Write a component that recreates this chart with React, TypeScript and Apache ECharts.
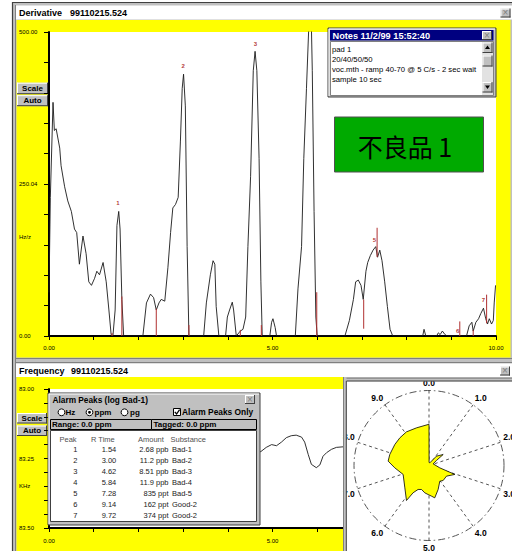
import React, { useEffect, useRef } from 'react';
import * as echarts from 'echarts';

// ---------- Derivative chart data ----------
const derivTimes = [
  0.00, 0.03, 0.09, 0.12, 0.16, 0.24, 0.27, 0.35, 0.42, 0.50, 0.57, 0.62, 0.68, 0.76, 0.83, 0.89, 0.95, 1.02, 1.07, 1.13,
  1.21, 1.28, 1.34, 1.39, 1.43, 1.48, 1.52, 1.56, 1.59, 1.63, 1.67,
  2.10, 2.18, 2.27, 2.34, 2.40, 2.46, 2.51, 2.59, 2.66, 2.72, 2.77, 2.83, 2.89, 2.94, 2.98, 3.01, 3.05, 3.09, 3.13,
  3.46, 3.52, 3.61, 3.67, 3.71, 3.74, 3.80, 3.95, 3.99, 4.04, 4.10, 4.13, 4.19, 4.28, 4.34, 4.40, 4.45, 4.51, 4.57,
  4.61, 4.65, 4.70, 4.74, 4.77, 4.94, 4.98, 5.01, 5.06, 5.09, 5.51, 5.57, 5.65, 5.70, 5.76, 5.82, 5.845, 5.865, 5.89,
  5.93, 5.97, 6.00, 6.62, 6.72, 6.81, 6.86, 6.92, 6.98, 7.03, 7.09, 7.13, 7.19, 7.25, 7.31, 7.35, 7.40, 7.45, 7.51,
  7.57, 7.63, 7.69, 8.36, 8.39, 8.43, 8.67, 8.71, 8.75, 8.80, 8.86, 8.90, 9.34, 9.40, 9.46, 9.49, 9.55, 9.61, 9.66,
  9.72, 9.77, 9.81, 9.85, 9.90, 9.94, 9.96, 9.99,
];
const derivValues = [
  71.8, 228.0, 384.3, 338.0, 340.9, 309.0, 280.1, 245.4, 222.2, 204.9, 175.9, 170.1, 118.1, 164.4, 135.4, 89.1, 83.3, 94.9, 106.5, 100.7,
  120.9, 89.1, 42.8, 2.3, 0, 42.8, 181.7, 204.9, 175.9, 60.2, 0,
  0, 54.4, 68.9, 63.1, 42.8, 54.4, 60.2, 57.3, 112.3, 170.1, 210.6, 216.4, 228.0, 320.6, 407.4, 430.6, 378.5, 147.0, 0,
  0, 54.4, 100.7, 123.8, 118.1, 48.6, 0, 0, 31.2, 42.8, 55.6, 42.8, 0, 8.1, 11.0, 31.2, 147.0, 262.7, 436.3,
  468.2, 436.3, 291.7, 89.1, 0, 0, 22.6, 28.4, 13.9, 0, 0, 77.5, 147.0, 291.7, 407.4, 525, 560, 530, 436.3,
  204.9, 31.2, 0, 0, 25.5, 60.2, 89.1, 92.0, 83.3, 60.2, 106.5, 120.9, 132.5, 141.2, 147.0, 129.6, 141.2, 123.8, 89.1,
  48.6, 11.0, 0, 0, 11.0, 0, 0, 5.2, 2.3, 8.1, 2.3, 0, 0, 16.8, 22.6, 8.1, 22.6, 28.4, 37.0,
  45.7, 28.4, 19.7, 28.4, 19.7, 25.5, 54.4, 83.3,
];
// tagged peak marks: [time, from, to]
const tagMarks = [
  [1.41, 0, 5], [1.63, 0, 65], [2.40, 0, 45], [3.13, 0, 18], [4.28, 0, 10], [4.75, 0, 18], [5.99, 0, 72],
  [7.04, 12, 60], [7.34, 130, 178], [9.19, 0, 24], [9.49, 0, 10], [9.79, 21, 68],
];
const derivXLabels = ['0.00', '5.00', '10.00'];
const derivYLabels = ['0.00', '250.04', '500.00'];

// ---------- Alarm peak table ----------
const peakNumbers = [1, 2, 3, 4, 5, 6, 7];
const peakRTimes = ['1.54', '3.00', '4.62', '5.84', '7.28', '9.14', '9.72'];
const peakAmounts = ['2.68 ppb', '11.2 ppb', '8.51 ppb', '11.9 ppb', '835 ppt', '162 ppt', '374 ppt'];
const peakSubstances = ['Bad-1', 'Bad-2', 'Bad-3', 'Bad-4', 'Bad-5', 'Good-2', 'Good-2'];
// label heights on the derivative plot (peak 4 is off scale, not labelled)
const peakLabelHeights = [219, 444, 481, null, 158, 8.7, 59];

// ---------- Frequency chart data ----------
const freqTimes = [4.60, 4.74, 4.86, 4.98, 5.09, 5.20, 5.31, 5.42, 5.53, 5.65, 5.72, 5.80, 5.87, 5.98, 6.06, 6.13, 6.21, 6.32, 6.43, 6.58, 6.70];
const freqValues = [83.23, 83.225, 83.210, 83.200, 83.204, 83.191, 83.175, 83.168, 83.166, 83.173, 83.191, 83.236, 83.271, 83.283, 83.273, 83.242, 83.229, 83.217, 83.210, 83.208, 83.208];
const freqXLabels = ['0.00', '5.00', '10.00'];
const freqYLabels = ['83.00', '83.25', '83.50'];

// ---------- Polar pattern ----------
const polarAngles = [0, 0.05, 0.46, 1.07, 1.45, 1.56, 1.89, 2.84, 3.03, 3.37, 3.80, 4.04, 4.42, 4.72, 4.87, 5.05, 5.24, 5.48, 5.68, 5.84, 5.91, 6.31, 6.97, 7.39, 7.67, 7.94, 8.38, 8.71, 9.06, 9.49, 9.97, 10];
const polarRadii = [0.55, 0.04, 0.037, 0.159, 0.239, 0.12, 0.059, 0.147, 0.364, 0.273, 0.275, 0.254, 0.342, 0.438, 0.41, 0.387, 0.369, 0.335, 0.351, 0.421, 0.555, 0.439, 0.365, 0.457, 0.548, 0.543, 0.535, 0.536, 0.54, 0.529, 0.547, 0.55];

// ---------- Notes ----------
const noteTitle = 'Notes 11/2/99 15:52:40';
const noteLines = ['pad 1', '20/40/50/50', 'voc.mth - ramp 40-70 @ 5 C/s - 2 sec wait', 'sample 10 sec'];

const UI = 'Liberation Sans';
const GRAY = '#c0c0c0';

function R(x: number, y: number, w: number, h: number, fill: string, stroke: string | null = null, z = 0, lw = 1): any {
  return { type: 'rect', shape: { x, y, width: w, height: h }, style: { fill, stroke, lineWidth: lw }, z, silent: true };
}
function L(x1: number, y1: number, x2: number, y2: number, stroke: string, z = 0, lw = 1): any {
  return { type: 'line', shape: { x1, y1, x2, y2 }, style: { stroke, lineWidth: lw }, z, silent: true };
}
function T(x: number, y: number, text: string, o: any = {}): any {
  const align = o.align || 'left';
  return {
    type: 'text', x, y, z: o.z ?? 0, silent: true,
    style: {
      text, fill: o.color || '#000', fontSize: o.size || 8, fontWeight: o.bold ? 'bold' : 'normal',
      fontFamily: o.family || UI, align, textAlign: align, verticalAlign: 'middle', textVerticalAlign: 'middle',
    },
  };
}
function button(x: number, y: number, w: number, h: number, z = 0): any[] {
  return [
    R(x, y, w, h, GRAY, null, z),
    L(x, y + 0.5, x + w, y + 0.5, '#fff', z),
    L(x + 0.5, y, x + 0.5, y + h, '#fff', z),
    L(x, y + h - 0.5, x + w, y + h - 0.5, '#404040', z),
    L(x + w - 0.5, y, x + w - 0.5, y + h, '#404040', z),
  ];
}
function closeBox(x: number, y: number, z = 0): any[] {
  return [...button(x, y, 10, 9, z), T(x + 5, y + 4.3, '×', { size: 10, color: '#808080', align: 'center', z })];
}

function buildGraphic(): any[] {
  const g: any[] = [];
  // outer frame
  g.push(R(12.5, 2.5, 502, 551, GRAY, '#404040', 0, 1.2));
  g.push(L(15.5, 5, 15.5, 551, '#808080'));
  // top panel
  g.push(R(16, 5.5, 496, 14, '#fff'));
  g.push(T(19, 12.8, 'Derivative', { size: 9, bold: true }));
  g.push(T(70, 12.8, '99110215.524', { size: 9, bold: true }));
  g.push(...closeBox(500.5, 8.5));
  g.push(R(16.5, 20, 494, 337.5, '#ffff00'));
  g.push(R(49, 32, 447, 304, '#fff'));
  g.push(T(19, 237, 'Hz/z', { size: 6 }));
  g.push(...button(17, 82.7, 31, 11.5), T(32.5, 88.5, 'Scale', { bold: true, align: 'center' }));
  g.push(...button(17, 95.2, 31, 11), T(32.5, 100.7, 'Auto', { bold: true, align: 'center' }));
  // separator
  g.push(L(16, 358.5, 512, 358.5, '#808080'));
  g.push(L(16, 362.5, 512, 362.5, '#808080'));
  // bottom panel
  g.push(R(16, 363.5, 496, 13.5, '#fff'));
  g.push(T(19, 371, 'Frequency', { size: 9, bold: true }));
  g.push(T(71, 371, '99110215.524', { size: 9, bold: true }));
  g.push(...closeBox(500, 366.5));
  g.push(R(16.5, 377, 327, 174, '#ffff00'));
  g.push(R(49, 389, 447, 139, '#fff'));
  g.push(T(19, 486, 'KHz', { size: 6 }));
  g.push(...button(17, 413, 30, 10.5), T(32, 418.3, 'Scale', { bold: true, align: 'center' }));
  g.push(...button(17, 425.5, 30, 10.5), T(32, 430.8, 'Auto', { bold: true, align: 'center' }));

  // notes window
  const Z = 20;
  g.push(R(328, 28, 168, 69, GRAY, '#404040', Z));
  g.push(L(329, 29, 495, 29, '#fff', Z), L(329, 29, 329, 96, '#fff', Z));
  g.push(R(330, 30, 163.5, 10.5, '#000080', null, Z));
  g.push(T(332.5, 35.5, noteTitle, { size: 9.2, bold: true, color: '#fff', z: Z }));
  g.push(...closeBox(482, 31, Z));
  g.push(R(330.5, 41.5, 163, 54, '#fff', '#808080', Z));
  noteLines.forEach((s, i) => g.push(T(332, 49 + i * 10, s, { size: 7.7, z: Z })));
  g.push(R(482, 42, 11, 53, '#e2e2e2', null, Z));
  g.push(...button(482.5, 42.5, 10, 10.5, Z));
  g.push({ type: 'polygon', shape: { points: [[487.5, 45.5], [485, 49], [490, 49]] }, style: { fill: '#000' }, z: Z });
  g.push(...button(482.5, 55.5, 10, 11, Z));
  g.push(...button(482.5, 82, 10, 10.5, Z));
  g.push({ type: 'polygon', shape: { points: [[485, 85.5], [490, 85.5], [487.5, 89]] }, style: { fill: '#000' }, z: Z });

  // result box
  g.push(R(334.5, 117, 149, 55, '#00aa00', '#505050', Z));
  g.push(T(405, 145.5, '不良品 1', { size: 25, family: 'Noto Sans CJK SC', align: 'center', z: Z }));

  // alarm peaks window
  g.push(R(48, 393, 212, 132, GRAY, '#404040', Z));
  g.push(L(49, 394, 259, 394, '#fff', Z), L(49, 394, 49, 524, '#fff', Z));
  g.push(T(52.5, 399.5, 'Alarm Peaks (log Bad-1)', { size: 8.3, bold: true, z: Z }));
  g.push(...closeBox(245, 395, Z));
  const rad = (cx: number, on: boolean) => {
    g.push({ type: 'circle', shape: { cx, cy: 412.3, r: 3.4 }, style: { fill: '#fff', stroke: '#000', lineWidth: 1 }, z: Z });
    if (on) g.push({ type: 'circle', shape: { cx, cy: 412.3, r: 1.4 }, style: { fill: '#000' }, z: Z });
  };
  rad(61.5, false); rad(89.5, true); rad(124.5, false);
  g.push(T(65.5, 412.3, 'Hz', { bold: true, z: Z }));
  g.push(T(94.5, 412.3, 'ppm', { bold: true, z: Z }));
  g.push(T(130, 412.3, 'pg', { bold: true, z: Z }));
  g.push(R(173.5, 408.5, 7, 7, '#fff', '#000', Z));
  g.push({ type: 'polyline', shape: { points: [[174.8, 411.8], [176.6, 414], [179.6, 409.6]] }, style: { stroke: '#000', lineWidth: 1.3, fill: null }, z: Z });
  g.push(T(182, 412.3, 'Alarm Peaks Only', { size: 8.4, bold: true, z: Z }));
  g.push(R(50.5, 419.5, 101, 10, GRAY, '#000', Z));
  g.push(R(151.5, 419.5, 105, 10, GRAY, '#000', Z));
  g.push(T(52, 424.5, 'Range: 0.0 ppm', { bold: true, z: Z }));
  g.push(T(153.5, 424.5, 'Tagged: 0.0 ppm', { bold: true, z: Z }));
  g.push(R(50.5, 430.5, 206, 91, '#fff', '#404040', Z));
  const hc = '#505050';
  g.push(T(59.5, 439, 'Peak', { size: 7.5, color: hc, z: Z }));
  g.push(T(91, 439, 'R Time', { size: 7.5, color: hc, z: Z }));
  g.push(T(138, 439, 'Amount', { size: 7.5, color: hc, z: Z }));
  g.push(T(170.5, 439, 'Substance', { size: 7.5, color: hc, z: Z }));
  peakNumbers.forEach((n, i) => {
    const y = 449.3 + i * 11.07;
    const c = '#222';
    g.push(T(77.5, y, String(n), { size: 7.5, color: c, align: 'right', z: Z }));
    g.push(T(116.3, y, peakRTimes[i], { size: 7.5, color: c, align: 'right', z: Z }));
    g.push(T(168.5, y, peakAmounts[i], { size: 7.5, color: c, align: 'right', z: Z }));
    g.push(T(172, y, peakSubstances[i], { size: 7.5, color: c, z: Z }));
  });

  // polar panel background and frame
  g.push(R(343, 377, 169, 174, '#fff', null, Z));
  g.push(R(343, 377, 169, 4.2, GRAY, null, 40));
  g.push(L(343, 378.2, 512, 378.2, '#808080', 40));
  g.push(L(346, 381, 512, 381, '#404040', 40));
  g.push(R(343, 377, 3.5, 174, GRAY, null, 40));
  g.push(L(343.5, 377, 343.5, 551, '#808080', 40));
  g.push(L(346.3, 381, 346.3, 551, '#404040', 40));
  return g;
}

function buildOption(): any {
  const deriv = derivTimes.map((t, i) => [t, derivValues[i]]);
  const freq = freqTimes.map((t, i) => [t, freqValues[i]]);
  const polarData = polarAngles.map((a, i) => [polarRadii[i], a]);
  const labels = peakNumbers
    .map((n, i) => ({ name: String(n), value: [Number(peakRTimes[i]), peakLabelHeights[i]] }))
    .filter((d) => d.value[1] !== null);
  const axisFont = { fontSize: 6, color: '#000', fontFamily: UI };
  const xFmt = (labelsArr: string[]) => (v: number) => {
    const i = v / 5;
    return Math.abs(i - Math.round(i)) < 1e-6 ? labelsArr[Math.round(i)] : '';
  };
  return {
    animation: false,
    backgroundColor: '#fff',
    graphic: { elements: buildGraphic() },
    grid: [
      { left: 49, top: 32, width: 447, height: 304, show: false },
      { left: 49, top: 389, width: 447, height: 139, show: false },
    ],
    xAxis: [
      {
        gridIndex: 0, type: 'value', min: 0, max: 10, interval: 1, z: 5,
        axisLine: { show: true, onZero: false, lineStyle: { color: '#000', width: 2 } },
        axisTick: { show: true, length: 4, lineStyle: { color: '#000' } },
        splitLine: { show: false },
        axisLabel: { ...axisFont, margin: 9, formatter: xFmt(derivXLabels) },
      },
      {
        gridIndex: 1, type: 'value', min: 0, max: 10, interval: 1, z: 5,
        axisLine: { show: true, onZero: false, lineStyle: { color: '#000', width: 2 } },
        axisTick: { show: true, length: 4, lineStyle: { color: '#000' } },
        splitLine: { show: false },
        axisLabel: { ...axisFont, margin: 10, formatter: xFmt(freqXLabels) },
      },
    ],
    yAxis: [
      {
        gridIndex: 0, type: 'value', min: 0, max: 500, interval: 50, z: 5,
        axisLine: { show: true, onZero: false, lineStyle: { color: '#000', width: 2 } },
        axisTick: { show: true, length: 5, lineStyle: { color: '#000' } },
        splitLine: { show: false },
        axisLabel: {
          ...axisFont, align: 'left', margin: 30,
          formatter: (v: number) => {
            const i = v / 250;
            return Math.abs(i - Math.round(i)) < 1e-6 ? derivYLabels[Math.round(i)] : '';
          },
        },
      },
      {
        gridIndex: 1, type: 'value', min: 83, max: 83.5, interval: 0.05, inverse: true, z: 5,
        axisLine: { show: true, onZero: false, lineStyle: { color: '#000', width: 2 } },
        axisTick: { show: true, length: 5, lineStyle: { color: '#000' } },
        splitLine: { show: false },
        axisLabel: {
          ...axisFont, align: 'left', margin: 30,
          formatter: (v: number) => {
            const i = (v - 83) / 0.25;
            return Math.abs(i - Math.round(i)) < 1e-6 ? freqYLabels[Math.round(i)] : '';
          },
        },
      },
    ],
    polar: { center: [429, 465.5], radius: 75 },
    angleAxis: {
      type: 'value', min: 0, max: 10, interval: 1, startAngle: 90, clockwise: true, z: 30,
      axisLine: { show: true, lineStyle: { color: '#555', width: 1, type: [7, 3, 1.5, 3] } },
      axisTick: { show: false },
      splitLine: { show: true, lineStyle: { color: '#555', width: 1, type: [3, 3] } },
      axisLabel: {
        show: true, margin: 3, fontSize: 8.5, fontWeight: 'bold', color: '#000', fontFamily: UI,
        formatter: (v: number) => (v >= 10 ? '' : v.toFixed(1)),
      },
    },
    radiusAxis: { type: 'value', min: 0, max: 1, show: false, z: 30 },
    series: [
      {
        type: 'line', xAxisIndex: 0, yAxisIndex: 0, data: deriv, showSymbol: false, z: 6, clip: true,
        lineStyle: { color: '#1a1a1a', width: 0.9 },
      },
      {
        type: 'custom', xAxisIndex: 0, yAxisIndex: 0, data: tagMarks, z: 7, encode: { x: 0, y: [1, 2] },
        renderItem: (_p: any, api: any) => {
          const a = api.coord([api.value(0), api.value(1)]);
          const b = api.coord([api.value(0), api.value(2)]);
          return { type: 'line', shape: { x1: a[0], y1: a[1], x2: b[0], y2: b[1] }, style: { stroke: '#b03030', lineWidth: 1 } };
        },
      },
      {
        type: 'scatter', xAxisIndex: 0, yAxisIndex: 0, data: labels, z: 8, symbolSize: 1,
        itemStyle: { color: 'rgba(0,0,0,0)' },
        label: { show: true, position: 'inside', formatter: '{b}', color: '#a00000', fontSize: 6, fontWeight: 'bold', fontFamily: UI },
      },
      {
        type: 'line', xAxisIndex: 1, yAxisIndex: 1, data: freq, showSymbol: false, z: 6,
        lineStyle: { color: '#1a1a1a', width: 0.9 },
      },
      {
        type: 'line', coordinateSystem: 'polar', polarIndex: 0, data: polarData, showSymbol: false, z: 31,
        lineStyle: { color: '#000', width: 0.8 },
        areaStyle: { color: '#ffff00', opacity: 1 },
      },
    ],
  };
}

export default function App() {
  const ref = useRef<HTMLDivElement>(null);
  useEffect(() => {
    document.body.style.margin = '0';
    const chart = echarts.init(ref.current!, undefined, { renderer: 'svg' });
    chart.setOption(buildOption());
    return () => chart.dispose();
  }, []);
  return <div ref={ref} style={{ width: 512, height: 551 }} />;
}
